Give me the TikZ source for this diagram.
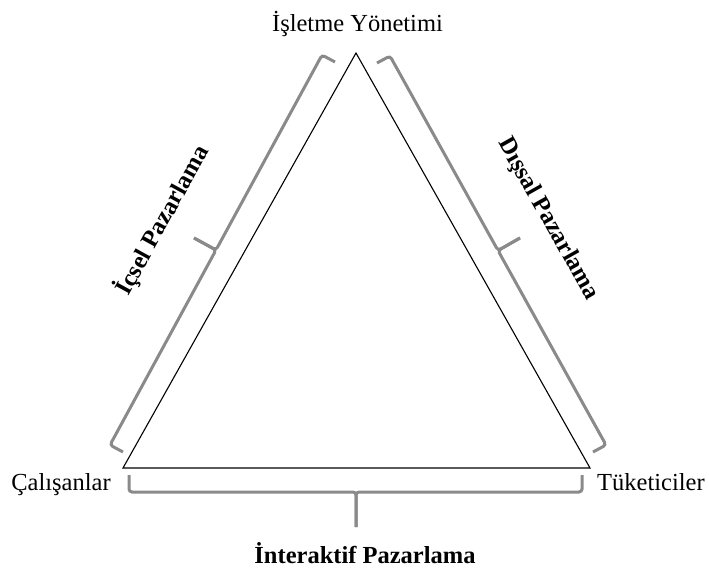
\documentclass[tikz,border=0pt]{standalone}
\usepackage{fontspec}
\setmainfont{Liberation Serif}
\usetikzlibrary{calc}
\definecolor{bracegray}{RGB}{138,138,138}
\begin{document}
\begin{tikzpicture}[x=1pt,y=-1pt,
  tri/.style={draw=black,line width=1.1pt,line join=miter},
  bracepath/.style={draw=bracegray,line width=3pt,rounded corners=3pt,line cap=butt},
  plainlabel/.style={font=\fontsize{24.5}{28}\selectfont,inner sep=0pt},
  boldlabel/.style={font=\fontsize{24.5}{28}\selectfont\bfseries,inner sep=0pt}]
\useasboundingbox (0,0) rectangle (709,569);
% triangle
\coordinate (A) at (356,53);
\coordinate (B) at (123,468);
\coordinate (C) at (590,468);
\draw[tri] (A) -- (B) -- (C) -- cycle;
% left brace
\coordinate (L1) at (322,55);
\coordinate (L1h) at (335,62);
\coordinate (L2) at (110,445);
\coordinate (L2h) at (123,452);
\coordinate (Lm) at (216,250);
\coordinate (Ls) at (194,238);
\draw[bracepath] (L1h) -- (L1) -- (Lm) -- (Ls);
\draw[bracepath] (Ls) -- (Lm) -- (L2) -- (L2h);
% right brace
\coordinate (R1) at (390,56);
\coordinate (R1h) at (377,63);
\coordinate (R2) at (606,445);
\coordinate (R2h) at (593,452);
\coordinate (Rm) at (498,250.5);
\coordinate (Rs) at (520,238);
\draw[bracepath] (R1h) -- (R1) -- (Rm) -- (Rs);
\draw[bracepath] (Rs) -- (Rm) -- (R2) -- (R2h);
% bottom brace
\coordinate (D1h) at (129,475);
\coordinate (D1) at (129,492);
\coordinate (D2) at (582,492);
\coordinate (D2h) at (582,475);
\coordinate (Dm) at (356,492);
\coordinate (Ds) at (356,527);
\draw[bracepath] (D1h) -- (D1) -- (Dm) -- (Ds);
\draw[bracepath] (Ds) -- (Dm) -- (D2) -- (D2h);
% vertex labels
\node[plainlabel,anchor=base] (top) at (357.5,32) {İşletme Yönetimi};
\node[plainlabel,anchor=base] (emp) at (61,490) {Çalışanlar};
\node[plainlabel,anchor=base west] (cust) at (597,490) {Tüketiciler};
% side labels
\node[boldlabel,rotate=61.3] (ic) at (162,220) {İçsel Pazarlama};
\node[boldlabel,rotate=-60.6] (dis) at (548,219) {Dışsal Pazarlama};
\node[boldlabel,anchor=base] (inter) at (365,563) {İnteraktif Pazarlama};
\end{tikzpicture}
\end{document}
